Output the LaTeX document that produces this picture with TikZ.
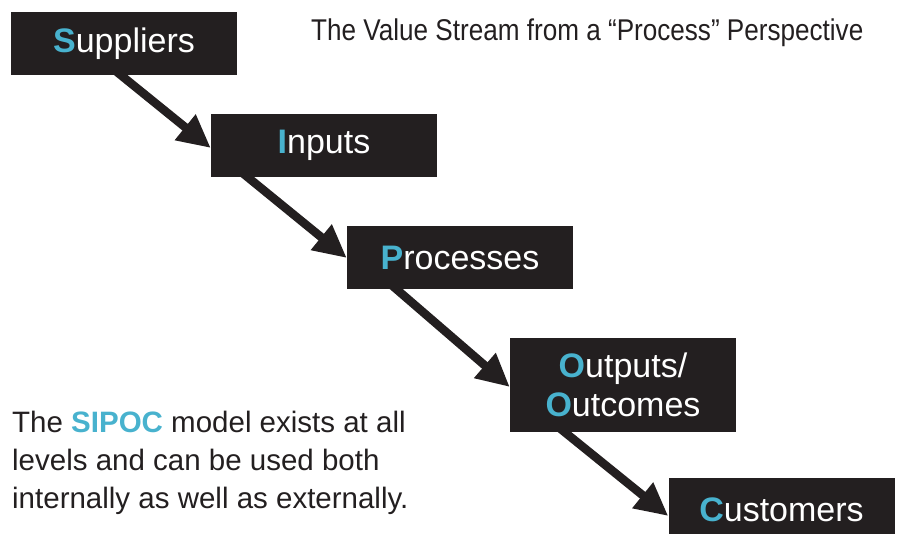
\documentclass[tikz,border=0pt]{standalone}
\usepackage{fontspec}
\setmainfont{Liberation Sans}
\newfontfamily\titlefont[FakeStretch=0.87]{Liberation Sans}
\usetikzlibrary{arrows.meta}
\definecolor{boxblack}{RGB}{35,31,32}
\definecolor{sipoc}{RGB}{72,178,206}
\newcommand{\firstletter}[1]{\textcolor{sipoc}{\textbf{#1}}}

\begin{document}
\begin{tikzpicture}[x=1pt, y=-1pt,
    stage/.style={fill=boxblack, text=white, inner sep=0pt, minimum width=226pt, minimum height=63pt, font=\fontsize{34}{39}\selectfont},
    flow/.style={draw=boxblack, line width=8.5pt, -{Triangle[length=33pt, width=31pt]}}]
    \useasboundingbox (0,0) rectangle (900,534);
    \clip (0,0) rectangle (900,534);
    \node[stage] (sup) at (124,43.5) {\firstletter{S}uppliers};
    \node[stage] (inp) at (324,145.5) {\firstletter{I}nputs};
    \node[stage] (pro) at (460,257.5) {\firstletter{P}rocesses};
    \node[stage, minimum height=94pt, align=center] (out) at (623,385) {\firstletter{O}utputs/\\\firstletter{O}utcomes};
    \node[stage] (cus) at (781.5,509.5) {\firstletter{C}ustomers};
    \draw[flow] ([xshift=-8pt, yshift=4pt]sup.south) -- ([yshift=-2.5pt]inp.west);
    \draw[flow] ([xshift=32pt, yshift=4pt]inp.south west) -- ([yshift=-0.5pt]pro.west);
    \draw[flow] ([xshift=45pt, yshift=4pt]pro.south west) -- ([yshift=-2pt]out.west);
    \draw[flow] ([xshift=50pt, yshift=4pt]out.south west) -- ([yshift=-6.5pt]cus.west);
    \node[anchor=base west, inner sep=0pt, text=boxblack, font=\titlefont\fontsize{30}{36}\selectfont] (title) at (311,41) {The Value Stream from a “Process” Perspective};
    \node[anchor=north west, inner sep=0pt, align=left, text=boxblack, font=\fontsize{29.5}{38}\selectfont] (note) at (12,411) {The \firstletter{SIPOC} model exists at all\\levels and can be used both\\internally as well as externally.};
\end{tikzpicture}
\end{document}
